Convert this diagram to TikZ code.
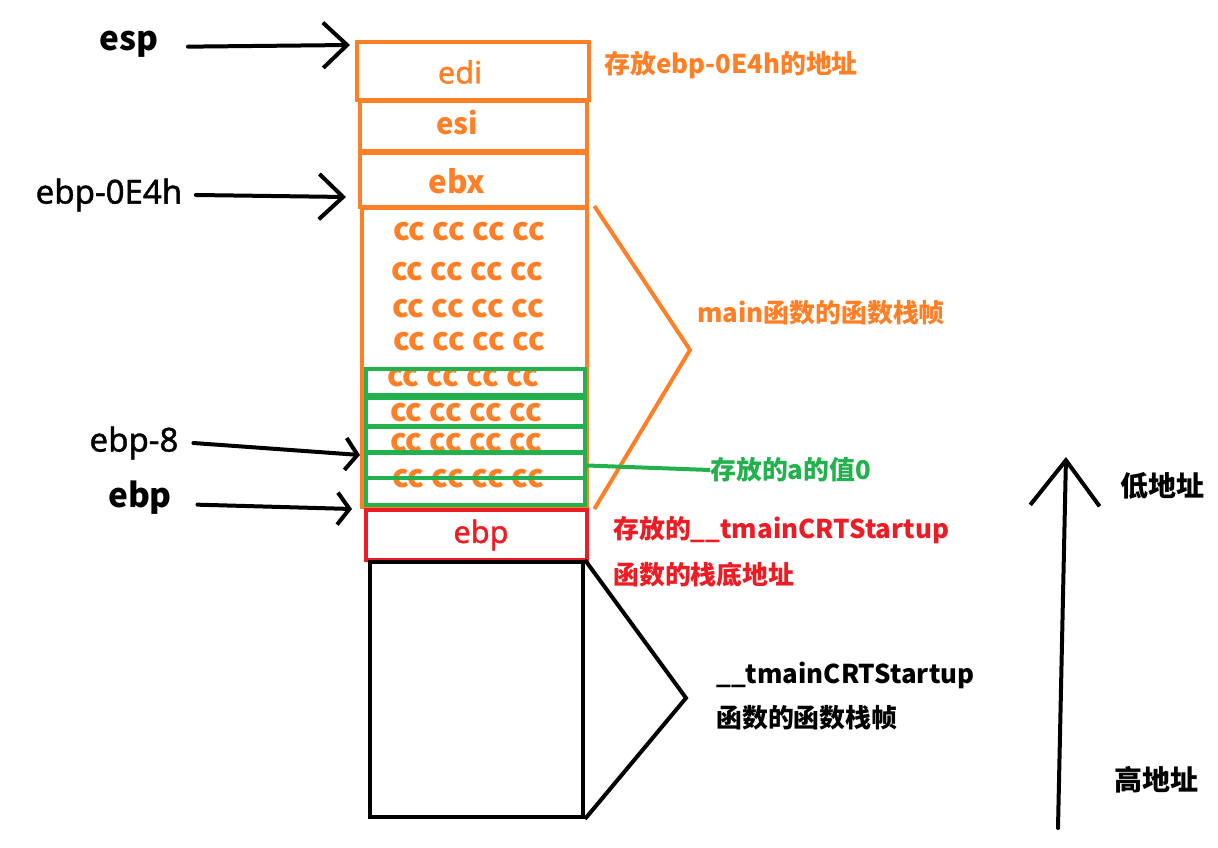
\documentclass[tikz,border=0pt]{standalone}
\usepackage{fontspec}
\setmainfont{Noto Sans CJK SC}
\newfontfamily\latinfont[FakeBold=1.2]{Noto Sans}
\usetikzlibrary{arrows.meta,fit,positioning}
\definecolor{paintorange}{RGB}{255,127,39}
\definecolor{paintgreen}{RGB}{34,177,76}
\definecolor{paintred}{RGB}{237,28,36}
\tikzset{
  cell/.style={draw=#1,line width=3pt,inner sep=0pt},
  cell/.default=paintorange,
  reg/.style={text=#1,font=\latinfont\fontsize{23}{27}\selectfont,inner sep=0pt},
  reg/.default=paintorange,
  cc/.style={text=paintorange,font=\fontsize{23.5}{27}\selectfont\bfseries,inner sep=0pt},
  ptr/.style={-{Straight Barb[length=18pt,width=34pt]},line width=3pt,line cap=round},
  ptr short/.style={-{Straight Barb[length=9pt,width=24pt]},line width=3pt,line cap=round},
  note/.style={text=#1,font=\fontsize{19.4}{23}\selectfont\bfseries,anchor=west,inner sep=0pt},
  note/.default=black,
  side/.style={font=\latinfont\fontsize{24.8}{29}\selectfont,inner sep=0pt},
  side bold/.style={font=\fontsize{25}{29}\selectfont\bfseries,inner sep=0pt},
  brace/.style={draw=#1,line width=3pt,line join=miter},
}
\begin{document}
\begin{tikzpicture}[x=0.75pt,y=-0.75pt]
\useasboundingbox[fill=white] (0,0) rectangle (1218,848);

% saved registers
\node[cell,fit={(357,42) (589,100)}] (edi) {};
\node[cell,fit={(360,101) (587,151)}] (esi) {};
\node[cell,fit={(360,153) (587,207)}] (ebx) {};
\node[reg] at (460,72) {edi};
\node[reg,font=\fontsize{22}{26}\selectfont\bfseries] at (457,123) {esi};
\node[reg,font=\fontsize{23.5}{27}\selectfont\bfseries] at (457,181) {ebx};

% main frame
\node[cell,fit={(362,208) (587,507)}] (frame) {};
\foreach \x/\y [count=\i] in {469/232,467/272,468/309,469/342,463/378,466/413,466/443,468/479}
  \node[cc] (cc\i) at (\x,\y) {cc cc cc cc};
\foreach \t/\b [count=\i] in {369/395,398/426,427/452,453/478,478/505}
  \node[cell=paintgreen,fit={(366,\t) (585,\b)}] (g\i) {};

% caller frame
\node[cell=paintred,fit={(366,510) (587,560)}] (saved) {};
\node[reg=paintred] at (481,535) {ebp};
\node[cell=black,fit={(370,562) (583,817)}] (caller) {};

% braces
\coordinate (mainTip) at (690,350);
\coordinate (callerTip) at (686,698);
\draw[brace=paintorange] ([xshift=4pt]frame.north east) -- (mainTip) -- ([xshift=4pt]frame.south east);
\draw[brace=black] (caller.north east) -- (callerTip) -- (caller.south east);

% notes
\node[note=paintorange] (ediNote) at (604,65) {存放ebp-0E4h的地址};
\node[note=paintorange] (mainNote) at (697,313) {main函数的函数栈帧};
\node[note=paintgreen] (aNote) at (710,470) {存放的a的值0};
\node[note=paintred] (ebpNote1) at (613,530) {存放的\_\_tmainCRTStartup};
\node[note=paintred] (ebpNote2) at (613,575) {函数的栈底地址};
\node[note] (callNote1) at (716,675) {\_\_tmainCRTStartup};
\node[note] (callNote2) at (716,718) {函数的函数栈帧};
\draw[paintgreen,line width=3pt] (g4.east) -- (aNote.west);

% pointers
\node[side bold] (esp) at (129,44) {esp};
\node[side] (ebp0E4h) at (109,195) {ebp-0E4h};
\node[side] (ebp8) at (134,443) {ebp-8};
\node[side bold] (ebp) at (140,498) {ebp};
\coordinate (espTip) at (350,45);
\coordinate (e4Tip) at (346,197);
\coordinate (e8Tip) at (360,455);
\coordinate (ebpTip) at (352,509);
\draw[ptr] ([xshift=22pt,yshift=-2pt]esp.east) -- (espTip);
\draw[ptr] ([xshift=10pt]ebp0E4h.east) -- (e4Tip);
\draw[ptr short] ([xshift=11pt]ebp8.east) -- (e8Tip);
\draw[ptr short] ([xshift=19pt,yshift=-5pt]ebp.east) -- (ebpTip);

% address direction
\coordinate (high) at (1058,828);
\coordinate (low) at (1066,457);
\draw[-{Straight Barb[length=34pt,width=52pt]},line width=3pt,line cap=round] (high) -- (low);
\node[side bold,font=\fontsize{21}{25}\selectfont\bfseries] (lowAddr) at (1162,486) {低地址};
\node[side bold,font=\fontsize{21}{25}\selectfont\bfseries] (highAddr) at (1156,780) {高地址};
\end{tikzpicture}
\end{document}
